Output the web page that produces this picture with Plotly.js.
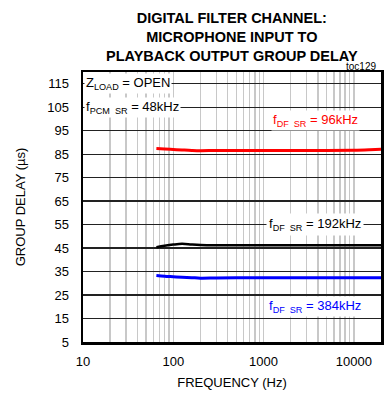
<!DOCTYPE html>
<html>
<head>
<meta charset="utf-8">
<script src="https://cdn.plot.ly/plotly-3.0.1.min.js"></script>
<style>html,body{margin:0;padding:0;background:#fff;}#chart{width:384px;height:395px;}</style>
</head>
<body>
<div id="chart"></div>
<script>
// Data
const freqHz = [65, 80, 100, 125, 160, 200, 300, 500, 1000, 2000, 5000, 10000, 15000, 20000];
const delay96k = [87.4, 87.2, 87.0, 86.8, 86.6, 86.5, 86.6, 86.6, 86.6, 86.6, 86.6, 86.7, 86.9, 87.1];
const delay192k = [45.4, 46.0, 46.5, 46.8, 46.5, 46.3, 46.2, 46.2, 46.2, 46.2, 46.2, 46.2, 46.2, 46.2];
const delay384k = [33.3, 33.0, 32.8, 32.6, 32.4, 32.2, 32.3, 32.4, 32.4, 32.4, 32.4, 32.4, 32.4, 32.4];
const xTickVals = [10, 100, 1000, 10000];
const xTickText = ['10', '100', '1000', '10000'];
const xMinorVals = [20,30,40,50,60,70,80,90,200,300,400,500,600,700,800,900,2000,3000,4000,5000,6000,7000,8000,9000];
const yTickVals = [5, 15, 25, 35, 45, 55, 65, 75, 85, 95, 105, 115];

const FONT = '"Liberation Sans Narrow", "Arial Narrow", "Liberation Sans", Arial, sans-serif';

const traces = [
  {x: freqHz, y: delay96k, mode: 'lines', line: {color: '#ff0000', width: 3, shape: 'spline'}, hoverinfo: 'skip'},
  {x: freqHz, y: delay192k, mode: 'lines', line: {color: '#000000', width: 2.5, shape: 'spline'}, hoverinfo: 'skip'},
  {x: freqHz, y: delay384k, mode: 'lines', line: {color: '#0000ff', width: 3, shape: 'spline'}, hoverinfo: 'skip'}
];

const labelFont = {family: FONT, size: 13};
const layout = {
  width: 384, height: 395,
  margin: {l: 83, r: 3, t: 72, b: 53},
  paper_bgcolor: '#fff', plot_bgcolor: '#fff',
  showlegend: false,
  font: {family: FONT, size: 12, color: '#000'},
  xaxis: {
    type: 'log', range: [1, Math.log10(20000)],
    tickvals: xTickVals, ticktext: xTickText,
    ticks: '', ticklabelstandoff: 6,
    showgrid: true, gridcolor: '#c8c8c8', gridwidth: 1.5,
    minor: {tickvals: xMinorVals, showgrid: true, gridcolor: '#c8c8c8', gridwidth: 1.5},
    showline: true, linecolor: '#000', linewidth: 2.5, mirror: true,
    zeroline: false,
    tickfont: {family: FONT, size: 13},
    title: {text: 'FREQUENCY (Hz)', font: {family: FONT, size: 13}, standoff: 10}
  },
  yaxis: {
    range: [5, 120],
    tickvals: yTickVals,
    ticks: '', ticklabelstandoff: 9,
    showgrid: true, gridcolor: '#222', gridwidth: 1.3,
    showline: true, linecolor: '#000', linewidth: 2.5, mirror: true,
    zeroline: false,
    tickfont: {family: FONT, size: 13},
    title: {text: 'GROUP DELAY (µs)', font: {family: FONT, size: 13}, standoff: 19}
  },
  annotations: [
    {text: '<b>DIGITAL FILTER CHANNEL:<br>MICROPHONE INPUT TO<br>PLAYBACK OUTPUT GROUP DELAY</b>', xref: 'paper', yref: 'paper', x: 0.5, y: 1.024, xanchor: 'center', yanchor: 'bottom', showarrow: false, font: {family: FONT, size: 14.5, color: '#000'}},
    {text: 'Z<sub>LOAD</sub> = OPEN', xref: 'paper', yref: 'y', x: 0.005, y: 115, xanchor: 'left', yanchor: 'middle', showarrow: false, bgcolor: '#fff', font: labelFont, borderpad: 1},
    {text: 'f<sub>PCM  SR</sub> = 48kHz', xref: 'paper', yref: 'y', x: 0.005, y: 105, xanchor: 'left', yanchor: 'middle', showarrow: false, bgcolor: '#fff', font: labelFont, borderpad: 1},
    {text: 'f<sub>DF  SR</sub> = 96kHz', xref: 'paper', yref: 'y', x: 0.78, y: 99.5, xanchor: 'center', yanchor: 'middle', showarrow: false, bgcolor: '#fff', font: {family: FONT, size: 13, color: '#ff0000'}, borderpad: 1},
    {text: 'f<sub>DF  SR</sub> = 192kHz', xref: 'paper', yref: 'y', x: 0.78, y: 55, xanchor: 'center', yanchor: 'middle', showarrow: false, bgcolor: '#fff', font: labelFont, borderpad: 2},
    {text: 'f<sub>DF  SR</sub> = 384kHz', xref: 'paper', yref: 'y', x: 0.78, y: 20, xanchor: 'center', yanchor: 'middle', showarrow: false, bgcolor: '#fff', font: {family: FONT, size: 13, color: '#0000ff'}, borderpad: 1},
    {text: 'toc129', xref: 'paper', yref: 'paper', x: 0.99, y: 1.0, xanchor: 'right', yanchor: 'bottom', showarrow: false, font: {family: FONT, size: 10}, yshift: -2}
  ]
};

Plotly.newPlot('chart', traces, layout, {displayModeBar: false, staticPlot: true});
</script>
</body>
</html>
